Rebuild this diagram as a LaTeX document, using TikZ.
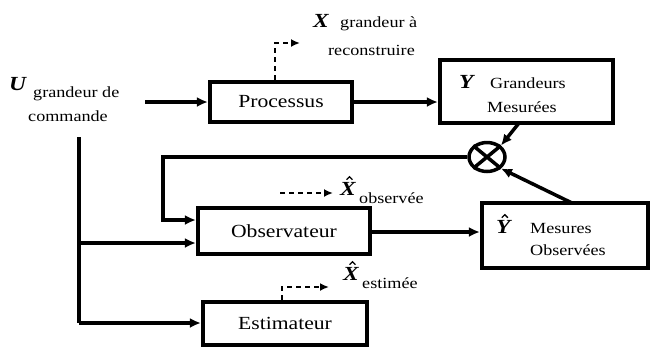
\documentclass[tikz,border=0pt]{standalone}
\usepackage{fontspec}
\setmainfont[FakeStretch=1.17]{Liberation Serif}
\usetikzlibrary{arrows.meta,shapes.geometric,calc}
\begin{document}
\begin{tikzpicture}[x=1pt,y=-1pt,
  blk/.style={draw, line width=4.2pt, rectangle, inner sep=0pt, font=\fontsize{18.5}{22}\selectfont},
  conn/.style={line width=3.5pt, -{Latex[length=11pt,width=10pt]}},
  dsh/.style={line width=2.2pt, dash pattern=on 5pt off 4pt, -{Latex[length=9pt,width=8pt]}},
  lbl/.style={inner sep=0pt, anchor=base west, font=\fontsize{15.5}{20}\selectfont},
  sym/.style={inner sep=0pt, anchor=base west, font=\fontsize{20}{22}\selectfont\bfseries\itshape},
  hatmark/.style={line width=1.3pt, line join=miter}]
\useasboundingbox[fill=white] (0,0) rectangle (650,349);

% blocks
\node[blk, minimum width=142pt, minimum height=40pt] (proc) at (281,102) {Processus};
\node[blk, minimum width=173pt, minimum height=63pt] (ybox) at (526.5,91.5) {};
\node[blk, minimum width=172pt, minimum height=46pt] (obs) at (284,231) {Observateur};
\node[blk, minimum width=166pt, minimum height=65pt] (yhat) at (565,235.5) {};
\node[blk, minimum width=164pt, minimum height=43pt] (est) at (285,323.5) {Estimateur};
\node[draw, ellipse, line width=3.5pt, minimum width=36pt, minimum height=29pt, inner sep=0pt] (circ) at (487,157) {};
\draw[line width=3.5pt] (circ.north west) -- (circ.south east);
\draw[line width=3.5pt] (circ.north east) -- (circ.south west);

% labels
\node[sym] (uU) at (9,90) {U};
\node[lbl] (ugr) at (33,97) {grandeur de};
\node[lbl] (ucom) at (28,121) {commande};

\node[sym] (xX) at (313,27) {X};
\node[lbl] (xgr) at (340,27) {grandeur à};
\node[lbl] (xrec) at (328,55) {reconstruire};

\node[sym] (yY) at (459,88) {Y};
\node[lbl] (ygr) at (490,88) {Grandeurs};
\node[lbl] (ymes) at (487,112) {Mesurées};

\node[sym] (yhY) at (496,233) {Y};
\node[lbl] (yhm) at (530,233) {Mesures};
\node[lbl] (yho) at (530,255) {Observées};

\node[sym] (xoX) at (340,195) {X};
\node[lbl] (xos) at (359,203) {observée};

\node[sym] (xeX) at (343,280) {X};
\node[lbl] (xes) at (362,288) {estimée};

% hats
\foreach \s in {yhY,xoX,xeX}{
  \draw[hatmark] ($(\s.north)+(-1.5,-2)$) -- ($(\s.north)+(1.5,-5)$) -- ($(\s.north)+(4.5,-2)$);
}

% coordinates
\coordinate (uout) at (145,102);
\coordinate (utop) at (79,137);
\coordinate (ubr) at (79,243);
\coordinate (ubot) at (79,323);
\coordinate (fbc) at (163,220);
\coordinate (xa) at (275,43);
\coordinate (xb) at (300,43);
\coordinate (oa) at (280,193);
\coordinate (ob) at (333,193);
\coordinate (ea) at (282,287);
\coordinate (eb) at (329,287);
\coordinate (ys) at (519,123);
\coordinate (yhs) at (572,203);

% connectors
\draw[conn] (uout) -- (uout -| proc.west);
\draw[conn] (proc.east) -- (proc.east -| ybox.west);
\draw[conn] (ys) -- (circ.north east);
\draw[conn] (yhs) -- (circ.south east);
\draw[conn] (circ.west) -| (fbc) -- (fbc -| obs.west);
\draw[line width=3.5pt] (utop) -- (ubot);
\draw[conn] (ubr) -- (ubr -| obs.west);
\draw[conn] (ubot) -- (ubot -| est.west);
\draw[conn] (obs.east |- 0,232) -- (yhat.west |- 0,232);

% dashed
\draw[dsh] (proc.north -| xa) -- (xa) -- (xb);
\draw[dsh] (oa) -- (ob);
\draw[dsh] (est.north -| ea) -- (ea) -- (eb);
\end{tikzpicture}
\end{document}
